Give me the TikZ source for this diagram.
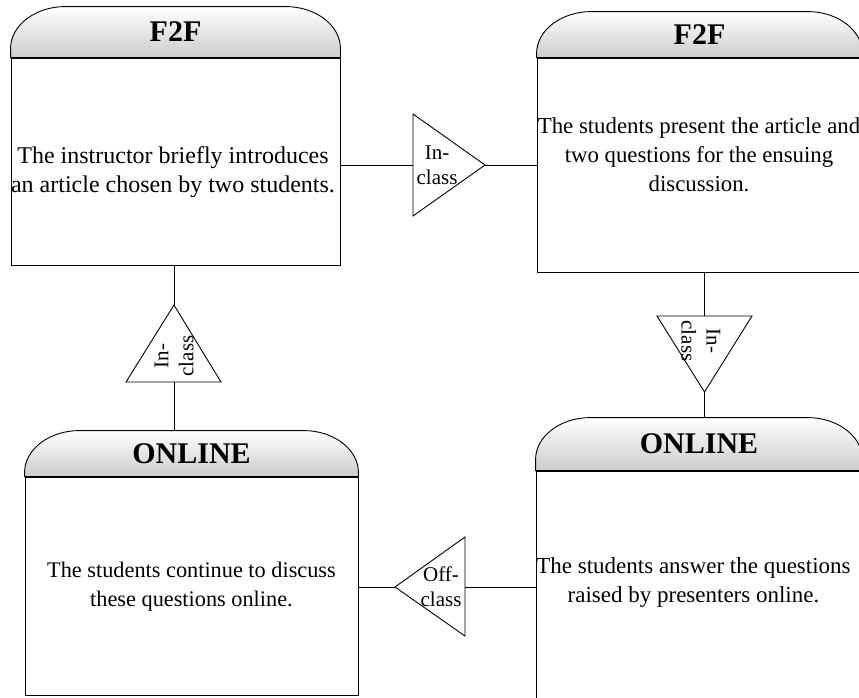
\documentclass[tikz,border=0pt]{standalone}
\usepackage{fontspec}
\setmainfont{Liberation Serif}

\tikzset{
	stagebody/.style={draw,line width=0.9pt,fill=white,inner sep=0pt},
	stagehead/.style={draw,line width=0.9pt,top color=white,bottom color=black!20},
	stagetitle/.style={font=\fontsize{30}{31}\selectfont\bfseries,inner sep=0pt},
	stagetext/.style={align=center,font=\fontsize{#1}{29}\selectfont,inner sep=0pt},
	stagetext/.default=22.5,
	tri/.style={draw,line width=0.9pt,fill=white},
	tag/.style={align=center,font=\fontsize{21}{25}\selectfont,inner sep=0pt},
	link/.style={line width=0.9pt}
}

\begin{document}
\begin{tikzpicture}[x=1pt,y=-1pt]
	\useasboundingbox (0,0) rectangle (859,697);

	% bodies of the four stages
	\node[stagebody,minimum width=329pt,minimum height=207pt] (a) at (175.5,161.5) {};
	\node[stagebody,minimum width=325pt,minimum height=214pt] (b) at (699.5,165) {};
	\node[stagebody,minimum width=333pt,minimum height=218pt] (c) at (191.5,586) {};
	\node[stagebody,minimum width=326pt,minimum height=231pt] (d) at (699,586.5) {};

	% rounded headers
	\foreach \nm/\hh/\ttl in {a/51/F2F,b/46/F2F,c/46/ONLINE,d/53/ONLINE}{
		\draw[stagehead] (\nm.north west) -- ++(0,{42-\hh})
			arc[start angle=180,end angle=90,x radius=55pt,y radius=42pt]
			-- ([xshift=-55pt,yshift=\hh*1pt]\nm.north east)
			arc[start angle=90,end angle=0,x radius=55pt,y radius=42pt]
			-- (\nm.north east) -- cycle;
		\coordinate (\nm-head) at ([yshift=\hh*1pt]\nm.north);
		\node[stagetitle] (\nm-title) at ([yshift=\hh*0.5pt]\nm.north) {\ttl};
	}

	\node[stagetext=24] (a-text) at (173,172) {The instructor briefly introduces\\an article chosen by two students.};
	\node[stagetext=22.8] (b-text) at (699,155) {The students present the article and\\two questions for the ensuing\\discussion.};
	\node[stagetext=22.3] (c-text) at (191.5,587) {The students continue to discuss\\these questions online.};
	\node[stagetext=23] (d-text) at (693.5,582) {The students answer the questions\\raised by presenters online.};

	% triangles between the stages
	\coordinate (ab-base) at (413,165);
	\coordinate (ab-tip) at (485,165);
	\coordinate (bd-base) at (704.5,316);
	\coordinate (bd-tip) at (704.5,392);
	\coordinate (dc-base) at (465,587);
	\coordinate (dc-tip) at (395,587);
	\coordinate (ca-base) at (174,382);
	\coordinate (ca-tip) at (174,305);

	\draw[tri] (ab-tip) -- (413,114) -- (413,216) -- cycle;
	\draw[tri] (bd-tip) -- (657,316) -- (752,316) -- cycle;
	\draw[tri] (dc-tip) -- (465,537) -- (465,636) -- cycle;
	\draw[tri] (ca-tip) -- (126,382) -- (221,382) -- cycle;

	\node[tag] (ab-tag) at (437,165) {In-\\class};
	\node[tag,rotate=-90] (bd-tag) at (701,341) {In-\\class};
	\node[tag] (dc-tag) at (441,587) {Off-\\class};
	\node[tag,rotate=90] (ca-tag) at (174,356) {In-\\class};

	\draw[link] (ab-base -| a.east) -- (ab-base);
	\draw[link] (ab-tip) -- (ab-tip -| b.west);
	\draw[link] (bd-base |- b.south) -- (bd-base);
	\draw[link] (bd-tip) -- (bd-tip |- d-head);
	\draw[link] (dc-base -| d.west) -- (dc-base);
	\draw[link] (dc-tip) -- (dc-tip -| c.east);
	\draw[link] (ca-base |- c-head) -- (ca-base);
	\draw[link] (ca-tip) -- (ca-tip |- a.south);
\end{tikzpicture}
\end{document}
